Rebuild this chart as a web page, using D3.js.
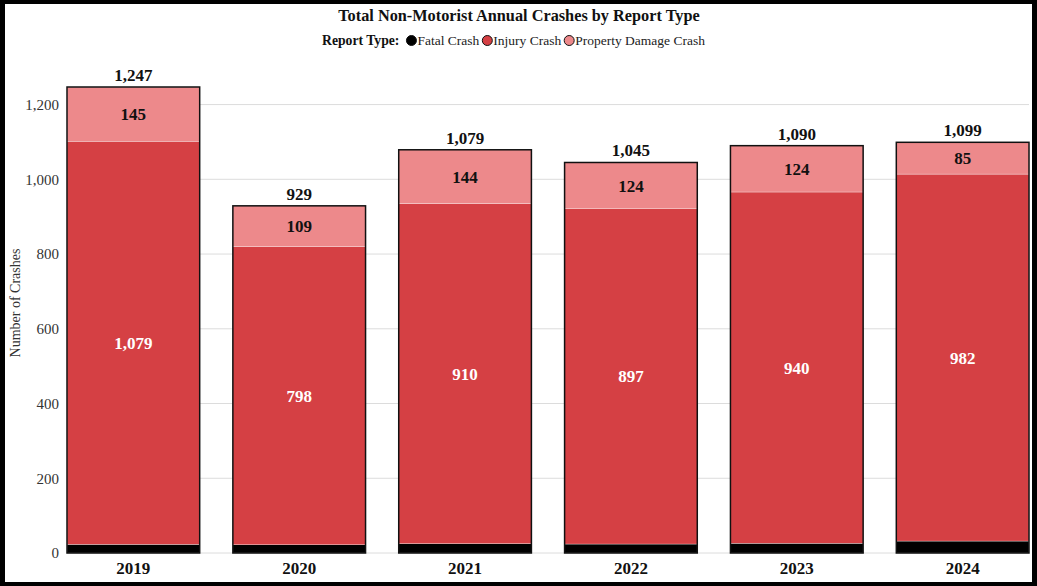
<!DOCTYPE html>
<html>
<head>
<meta charset="utf-8">
<script src="https://cdn.jsdelivr.net/npm/d3@7"></script>
<style>
    body { margin: 0; background: #000; }
    #chart { position: absolute; left: 5px; top: 4px; width: 1027px; height: 578px; background: #fff; }
    svg { font-family: "Liberation Serif", "Times New Roman", serif; }
</style>
</head>
<body>
<div id="chart"></div>
<script>
// Non-motorist crashes by report type
var years = ['2019', '2020', '2021', '2022', '2023', '2024'];
var fatal = [23, 22, 25, 24, 26, 32];
var injury = [1079, 798, 910, 897, 940, 982];
var property = [145, 109, 144, 124, 124, 85];
var yTicks = [0, 200, 400, 600, 800, 1000, 1200];

var seriesNames = ['Fatal Crash', 'Injury Crash', 'Property Damage Crash'];
var colors = ['#000000', '#d54044', '#ed898b'];

function drawStackedBars() {
    var width = 1027,
        height = 578;

    // offsets are relative to the white box (page minus border)
    var margin = { top: 83, right: 3, bottom: 29, left: 62 };

    var svg = d3.select('#chart').append('svg')
        .attr('width', width)
        .attr('height', height);

    var rows = years.map(function (y, i) {
        return { year: y, fatal: fatal[i], injury: injury[i], property: property[i] };
    });

    var x = d3.scaleBand()
        .domain(years)
        .range([margin.left, width - margin.right])
        .paddingInner(0.2)
        .paddingOuter(0);

    var y = d3.scaleLinear()
        .domain([0, 1247])
        .range([height - margin.bottom, margin.top]);

    // gridlines
    svg.append('g')
        .selectAll('line')
        .data(yTicks)
        .enter().append('line')
        .attr('x1', margin.left)
        .attr('x2', width - margin.right)
        .attr('y1', function (d) { return y(d); })
        .attr('y2', function (d) { return y(d); })
        .attr('stroke', '#dcdcdc')
        .attr('stroke-width', 1);

    // y axis (labels only)
    var yAxis = d3.axisLeft(y).tickValues(yTicks).tickSize(0).tickPadding(0).tickFormat(d3.format(','));
    svg.append('g')
        .attr('transform', 'translate(' + (margin.left - 8) + ',0)')
        .call(yAxis)
        .call(function (g) { g.select('.domain').remove(); })
        .selectAll('text')
        .attr('font-family', '"Liberation Serif", serif')
        .attr('font-size', '15px')
        .attr('fill', '#333');

    svg.append('text')
        .attr('transform', 'translate(15,299) rotate(-90)')
        .attr('text-anchor', 'middle')
        .attr('font-size', '14px')
        .attr('fill', '#333')
        .text('Number of Crashes');

    var stack = d3.stack().keys(['fatal', 'injury', 'property']);
    var layers = stack(rows);

    var layer = svg.selectAll('.layer')
        .data(layers)
        .enter().append('g')
        .attr('class', 'layer')
        .attr('fill', function (d, i) { return colors[i]; });

    layer.selectAll('rect')
        .data(function (d) { return d; })
        .enter().append('rect')
        .attr('x', function (d) { return x(d.data.year); })
        .attr('y', function (d) { return y(d[1]); })
        .attr('width', x.bandwidth())
        .attr('height', function (d) { return y(d[0]) - y(d[1]); })
        .attr('stroke', '#fff')
        .attr('stroke-width', 0.3);

    // outline around each full bar
    svg.selectAll('.outline')
        .data(rows)
        .enter().append('rect')
        .attr('class', 'outline')
        .attr('x', function (d) { return x(d.year); })
        .attr('y', function (d) { return y(d.fatal + d.injury + d.property); })
        .attr('width', x.bandwidth())
        .attr('height', function (d) { return y(0) - y(d.fatal + d.injury + d.property); })
        .attr('fill', 'none')
        .attr('stroke', '#111')
        .attr('stroke-width', 1.5);

    // segment labels: injury (white) and property (black)
    var fmt = d3.format(',');
    [1, 2].forEach(function (k) {
        svg.append('g').selectAll('text')
            .data(layers[k])
            .enter().append('text')
            .attr('x', function (d) { return x(d.data.year) + x.bandwidth() / 2; })
            .attr('y', function (d) { return (y(d[0]) + y(d[1])) / 2; })
            .attr('dy', '0.35em')
            .attr('text-anchor', 'middle')
            .attr('font-weight', 'bold')
            .attr('font-size', '17px')
            .attr('fill', k === 1 ? '#fff' : '#111')
            .text(function (d) { return fmt(d[1] - d[0]); });
    });

    // totals
    svg.append('g').selectAll('text')
        .data(rows)
        .enter().append('text')
        .attr('x', function (d) { return x(d.year) + x.bandwidth() / 2; })
        .attr('y', function (d) { return y(d.fatal + d.injury + d.property) - 6; })
        .attr('text-anchor', 'middle')
        .attr('font-weight', 'bold')
        .attr('font-size', '17px')
        .attr('fill', '#111')
        .text(function (d) { return fmt(d.fatal + d.injury + d.property); });

    // x axis labels
    var xAxis = d3.axisBottom(x).tickSize(0).tickPadding(9);
    svg.append('g')
        .attr('transform', 'translate(0,' + y(0) + ')')
        .call(xAxis)
        .call(function (g) { g.select('.domain').remove(); })
        .selectAll('text')
        .attr('font-family', '"Liberation Serif", serif')
        .attr('font-weight', 'bold')
        .attr('font-size', '17px')
        .attr('fill', '#111');

    // title
    svg.append('text')
        .attr('x', 514)
        .attr('y', 17)
        .attr('text-anchor', 'middle')
        .attr('font-weight', 'bold')
        .attr('font-size', '16.3px')
        .attr('fill', '#111')
        .text('Total Non-Motorist Annual Crashes by Report Type');

    // legend
    var legend = svg.append('g').attr('transform', 'translate(0,41)');
    var lx = 317;
    var head = legend.append('text')
        .attr('x', lx)
        .attr('y', 0)
        .attr('font-weight', 'bold')
        .attr('font-size', '13.7px')
        .attr('fill', '#111')
        .text('Report Type:');
    lx += head.node().getComputedTextLength() + 7;

    seriesNames.forEach(function (name, i) {
        legend.append('circle')
            .attr('cx', lx + 5)
            .attr('cy', -4.5)
            .attr('r', 5)
            .attr('fill', colors[i])
            .attr('stroke', '#111')
            .attr('stroke-width', 1);
        var t = legend.append('text')
            .attr('x', lx + 11)
            .attr('y', 0)
            .attr('font-size', '13.5px')
            .attr('fill', '#222')
            .text(name);
        lx += 11 + t.node().getComputedTextLength() + 3;
    });
}

drawStackedBars();
</script>
</body>
</html>
